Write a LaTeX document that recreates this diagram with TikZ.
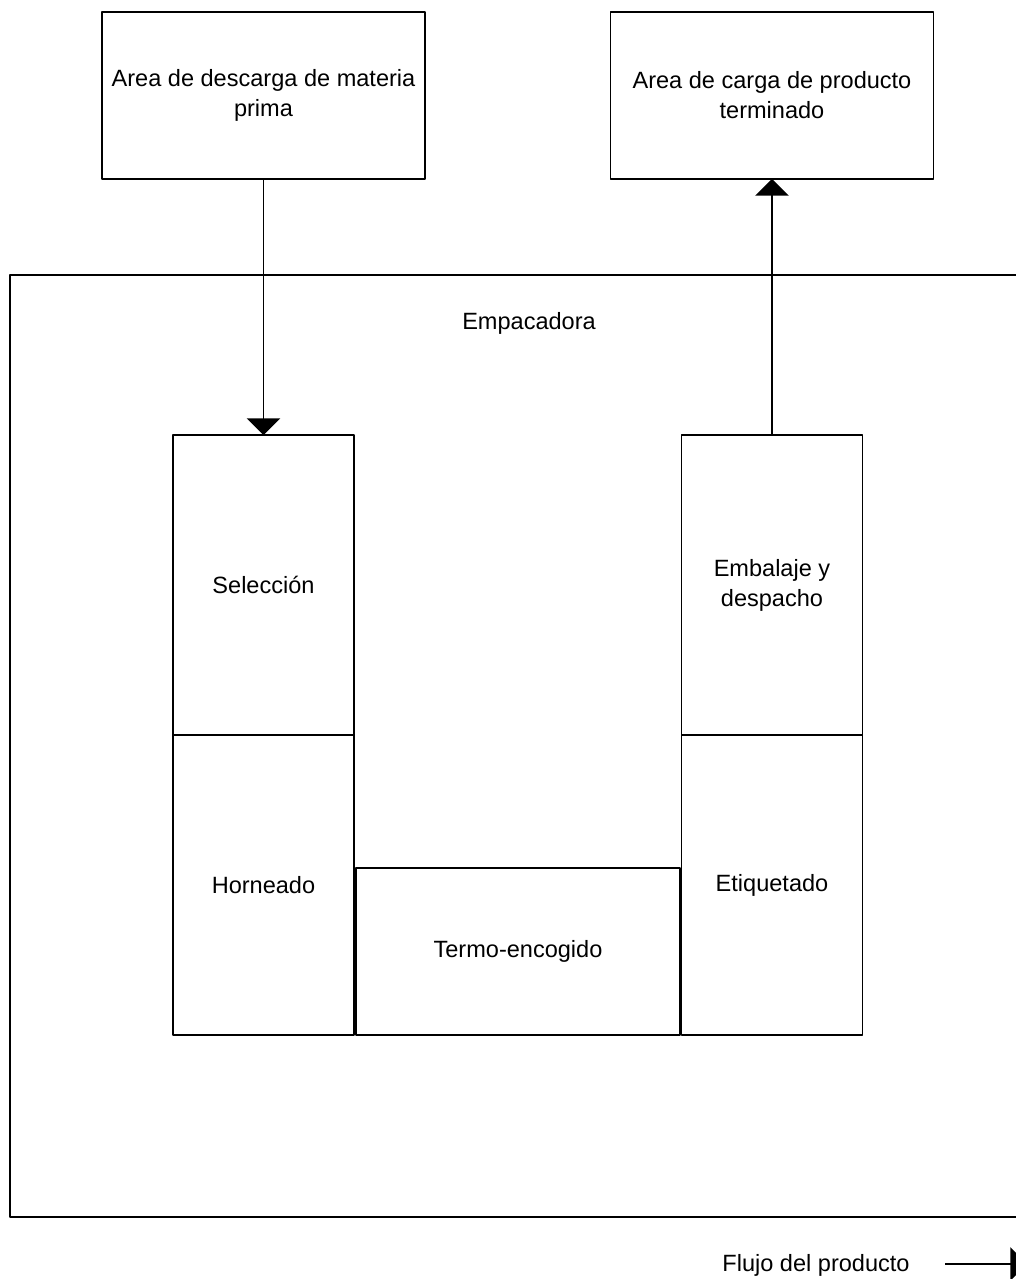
\documentclass[tikz,border=0pt]{standalone}
\usepackage{fontspec}
\setmainfont{Liberation Sans}
\usetikzlibrary{arrows.meta}
\begin{document}
\begin{tikzpicture}[x=0.02cm, y=-0.02cm, line width=1pt, line join=round,
	font=\fontsize{13.4}{17}\selectfont,
	area/.style={draw, inner sep=0pt, outer sep=0pt, align=center, minimum width=6.46cm, minimum height=3.34cm},
	etapa/.style={draw, inner sep=0pt, outer sep=0pt, align=center, minimum width=3.62cm, minimum height=6cm},
	flow/.style={-{Triangle[width=19pt,length=9.5pt]}}]
	\useasboundingbox (0,0) rectangle (1016,1279);
	\clip (0,0) rectangle (1016,1279);
	% zonas externas
	\node[area] (descarga) at (263.5,95.5) {Area de descarga de materia\\prima};
	\node[area] (carga) at (772,95.5) {Area de carga de producto\\terminado};
	% planta
	\draw (1040,275) -- (10,275) -- (10,1217) -- (1040,1217);
	\node (empacadora) at (529,323) {Empacadora};
	\node[etapa] (seleccion) at (263.5,585) {Selecci\'on};
	\node[etapa] (horneado) at (263.5,885) {Horneado};
	\node[etapa, minimum width=6.48cm, minimum height=3.34cm] (termo) at (518,951.5) {Termo-encogido};
	\node[etapa] (embalaje) at (772,585) {Embalaje y\\despacho};
	\node[etapa] (etiquetado) at (772,885) {Etiquetado};
	\draw[flow] (descarga.south) -- (seleccion.north);
	\draw[flow] (embalaje.north) -- (carga.south);
	% leyenda
	\node (flujo) at (816,1265) {Flujo del producto};
	\path (945,1264) coordinate (f1) (1027,1264) coordinate (f2);
	\draw[flow] (f1) -- (f2);
\end{tikzpicture}
\end{document}
